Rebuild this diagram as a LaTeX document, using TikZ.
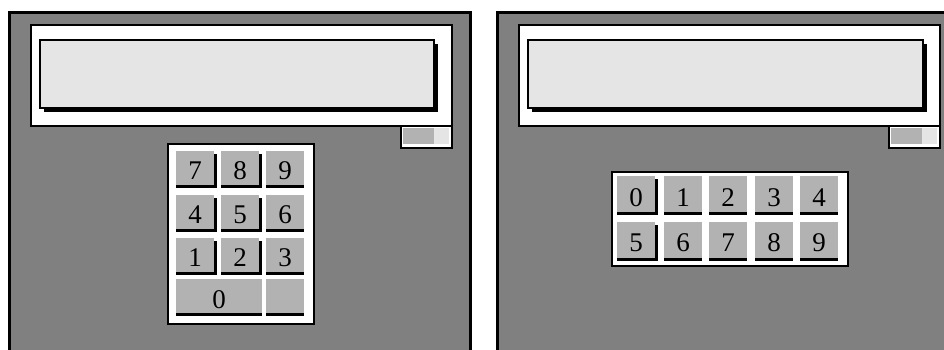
\documentclass[tikz,border=0pt]{standalone}
\usepackage{fontspec}
\setmainfont{Liberation Serif}
\usetikzlibrary{shadows}
\definecolor{panel}{gray}{0.5}
\definecolor{screen}{gray}{0.9}
\definecolor{keyface}{gray}{0.7}
\begin{document}
\begin{tikzpicture}[x=1pt,y=-1pt,
  keybox/.style={fill=keyface,minimum width=38pt,minimum height=34pt,inner sep=0pt,
    text height=24pt,text depth=0pt,font=\fontsize{27}{27}\selectfont,
    drop shadow={shadow xshift=0pt,shadow yshift=-3pt,fill=black,opacity=1}},
  sidekey/.style={keybox,drop shadow={shadow xshift=2.5pt,shadow yshift=-3pt,fill=black,opacity=1}}]
\useasboundingbox (0,0) rectangle (944,349);
\clip (0,0) rectangle (944,349);
% left device
\draw[fill=panel,line width=3pt] (9.5,12.5) rectangle (470.5,360);
\draw[fill=white,line width=2.5pt] (31,25) rectangle (452,126);
\fill (44,44) rectangle (438,112);
\draw[fill=screen,line width=2pt] (40,40) rectangle (434,108);
\draw[fill=white,line width=2.5pt] (401,126) rectangle (452,148);
\fill[keyface] (403,128) rectangle (434,144);
\fill[screen] (434,128) rectangle (449,144);
\draw[fill=white,line width=2.5pt] (168,144) rectangle (314,324);
\node[sidekey] (l7) at (195,167.5) {7};
\node[sidekey] (l8) at (240,167.5) {8};
\node[keybox]  (l9) at (285,167.5) {9};
\node[sidekey] (l4) at (195,211.5) {4};
\node[sidekey] (l5) at (240,211.5) {5};
\node[keybox]  (l6) at (285,211.5) {6};
\node[sidekey] (l1) at (195,254.5) {1};
\node[sidekey] (l2) at (240,254.5) {2};
\node[keybox]  (l3) at (285,254.5) {3};
\node[keybox,minimum width=86pt] (l0) at (219,296) {0};
\node[keybox] (lx) at (285,296) {};
% right device
\draw[fill=panel,line width=3pt] (497.5,12.5) rectangle (960,360);
\draw[fill=white,line width=2.5pt] (519,25) rectangle (940,126);
\fill (532,44) rectangle (927,112);
\draw[fill=screen,line width=2pt] (528,40) rectangle (923,108);
\draw[fill=white,line width=2.5pt] (889,126) rectangle (940,148);
\fill[keyface] (891,128) rectangle (922,144);
\fill[screen] (922,128) rectangle (937,144);
\draw[fill=white,line width=2.5pt] (612,172) rectangle (848,266);
\node[sidekey,minimum height=36pt] (r0) at (636,194) {0};
\node[sidekey,minimum height=36pt] (r5) at (636,239.5) {5};
\foreach \d/\x in {1/683,2/728,3/774,4/819}
  \node[keybox,minimum height=36pt] (r\d) at (\x,194) {\d};
\foreach \d/\x in {6/683,7/728,8/774,9/819}
  \node[keybox,minimum height=36pt] (r\d) at (\x,239.5) {\d};
\end{tikzpicture}
\end{document}
